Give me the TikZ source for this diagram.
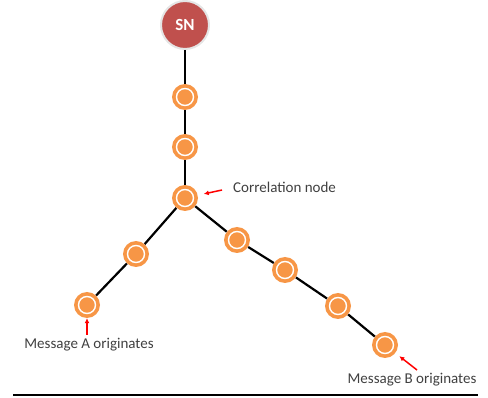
\documentclass[tikz,border=0pt]{standalone}
\usepackage{fontspec}
\setmainfont{Carlito}
\usetikzlibrary{arrows.meta}
\definecolor{relayorange}{RGB}{247,150,70}
\definecolor{sinkred}{RGB}{192,80,77}
\definecolor{labelgray}{RGB}{64,64,64}
\tikzset{
    relay/.style={circle, fill=relayorange, minimum size=26pt, inner sep=0pt,
        path picture={\draw[white, line width=1.4pt] (path picture bounding box.center) circle (8.5pt);}},
    sink/.style={circle, fill=sinkred, draw=gray!20, line width=2pt, minimum size=48pt, inner sep=0pt,
        text=white, font=\bfseries\fontsize{17pt}{19pt}\selectfont},
    link/.style={line width=2.2pt, black},
    note/.style={text=labelgray, font=\fontsize{15pt}{17pt}\selectfont, inner sep=0pt},
    pointer/.style={-{Latex[length=5pt,width=5pt]}, red, line width=1.5pt}
}
\begin{document}
\begin{tikzpicture}[x=1pt, y=-1pt]
    \useasboundingbox (0,0) rectangle (488,398);

    \node[sink] (SN) at (185,25) {SN};

    \node[relay] (n1) at (185,97) {};
    \node[relay] (n2) at (185,147) {};
    \node[relay] (cor) at (185,198) {};
    \node[relay] (a1) at (136,254) {};
    \node[relay] (a0) at (87,305) {};
    \node[relay] (b1) at (237,240) {};
    \node[relay] (b2) at (285,270) {};
    \node[relay] (b3) at (338,306) {};
    \node[relay] (b0) at (385,345) {};

    \draw[link] (SN) -- (n1);
    \draw[link] (n1) -- (n2);
    \draw[link] (n2) -- (cor);
    \draw[link] (cor) -- (a1);
    \draw[link] (a1) -- (a0);
    \draw[link] (cor) -- (b1);
    \draw[link] (b1) -- (b2);
    \draw[link] (b2) -- (b3);
    \draw[link] (b3) -- (b0);

    \node[note, anchor=west] (corlabel) at (233,187) {Correlation node};
    \node[note] (alabel) at (89,345) {Message A originates};
    \node[note] (blabel) at (412,380) {Message B originates};

    \coordinate (corarrow) at (222,190);
    \coordinate (aarrow) at (87,335);
    \coordinate (barrow) at (417,370);
    \draw[pointer, shorten >=6pt] (corarrow) -- (cor);
    \draw[pointer] (aarrow) -- (a0);
    \draw[pointer, shorten >=5pt] (barrow) -- (b0);

    \draw[line width=2pt] (13,395) -- (478,395);
\end{tikzpicture}
\end{document}
